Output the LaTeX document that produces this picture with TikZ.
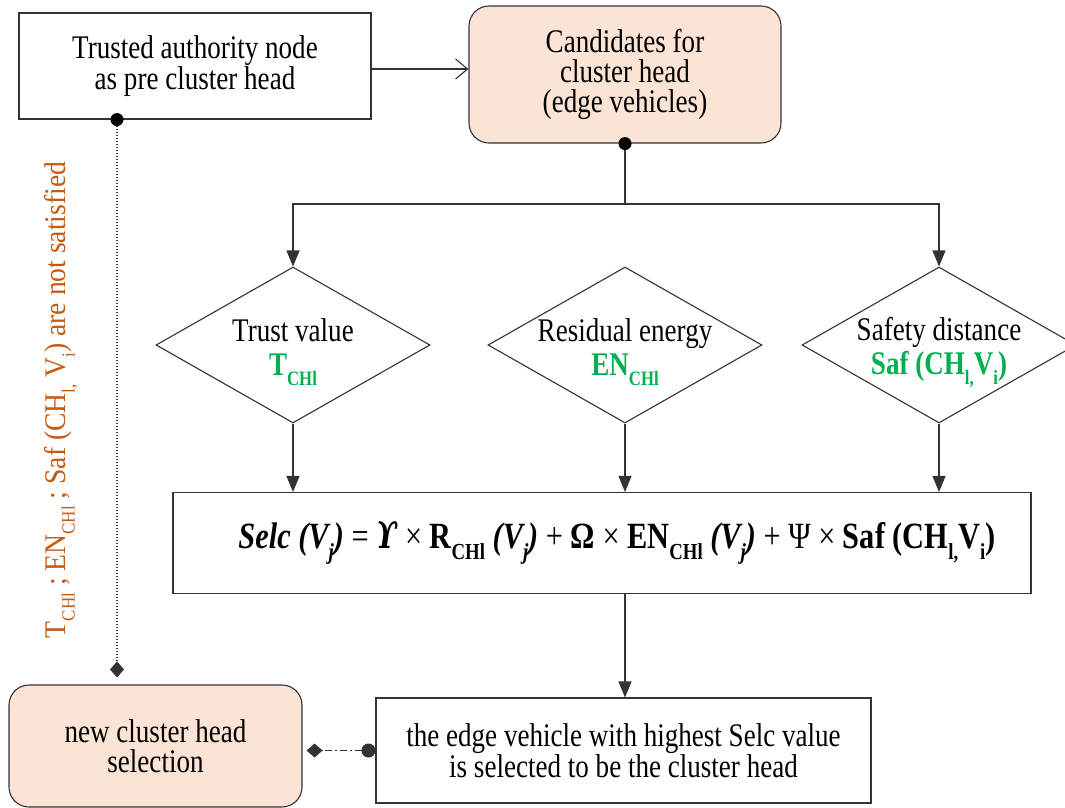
\documentclass[tikz,border=0pt]{standalone}
\usepackage{fontspec}
\usepackage{graphicx}
\setmainfont{Liberation Serif}[FakeStretch=0.82]
\newfontfamily\rotfont{Liberation Serif}[FakeStretch=0.92]
\newfontfamily\upsfont{DejaVu Serif}[FakeStretch=0.75]
\usetikzlibrary{arrows.meta,shapes.geometric}
\definecolor{peach}{HTML}{FBE4D5}
\definecolor{cgreen}{HTML}{00B050}
\definecolor{corange}{HTML}{C55A11}
\definecolor{edge}{HTML}{333333}
\newcommand\subx[1]{\raisebox{-0.3em}{\scalebox{0.62}{#1}}}
\newcommand\topstrut{\rule{0pt}{38pt}}
\tikzset{knob/.tip={Diamond[length=16pt,width=14pt]}}

\begin{document}
\begin{tikzpicture}[x=1pt,y=-1pt,
  every node/.style={font=\fontsize{33}{30}\selectfont, align=center},
  box/.style={draw=edge, line width=1.1pt, rectangle, inner sep=0pt},
  softbox/.style={box, fill=peach, rounded corners=20pt},
  diam/.style={draw=edge, line width=1.1pt, diamond, aspect=1.756, inner sep=-14pt,
    minimum width=274pt, minimum height=156pt, font=\fontsize{33}{34}\selectfont},
  link/.style={line width=1.1pt, draw=edge},
  tri/.style={-{Triangle[length=16pt,width=13pt]}},
  open/.style={-{Straight Barb[length=12pt,width=20pt,line width=1.1pt]}},
  dotline/.style={dash pattern=on 1.3pt off 1.7pt},
  dashdot/.style={dash pattern=on 7pt off 3pt on 2pt off 3pt}
]
\fill[white] (0,0) rectangle (1065,807);
\useasboundingbox (0,0) rectangle (1065,807);

% boxes
\node[box, minimum width=352pt, minimum height=106pt] (ta) at (195,66)
  {Trusted authority node\\as pre cluster head};
\node[softbox, minimum width=312pt, minimum height=137pt] (cand) at (625,74.5)
  {Candidates for\\cluster head\\(edge vehicles)};

% criteria
\node[diam] (d1) at (293,345) {\topstrut Trust value\\\textcolor{cgreen}{\bfseries T\subx{CHl}}};
\node[diam] (d2) at (625,345) {\topstrut Residual energy\\\textcolor{cgreen}{\bfseries EN\subx{CHl}}};
\node[diam] (d3) at (939,345) {\topstrut Safety distance\\\textcolor{cgreen}{\bfseries Saf (CH\subx{l,}V\subx{i})}};

% selection score
\node[box, minimum width=858pt, minimum height=101pt, font=\fontsize{37}{35}\selectfont] (fb) at (602,543)
  {\hspace*{30pt}{\bfseries\itshape Selc (V\subx{j})} = {\upsfont\bfseries\itshape ϒ} × {\bfseries R\subx{CHl} \textit{(V\subx{j})}} + {\bfseries Ω} × {\bfseries EN\subx{CHl} \textit{(V\subx{j})}} + Ψ × {\bfseries Saf (CH\subx{l,}V\subx{i})}};

\node[box, minimum width=495pt, minimum height=105pt] (res) at (623.5,750.5)
  {the edge vehicle with highest Selc value\\is selected to be the cluster head};
\node[softbox, minimum width=293pt, minimum height=122pt] (newch) at (155.5,746)
  {new cluster head\\selection};

% failure condition
\node[rotate=90, text=corange, font=\rotfont\fontsize{30}{30}\selectfont] (cond) at (61,400)
  {T\subx{CHl} ; EN\subx{CHl} ; Saf (CH\subx{l,} V\subx{i}) are not satisfied};

% connectors
\draw[link, open] ([yshift=-3pt]ta.east) -- ([yshift=-3pt]cand.west |- ta.east);

\coordinate (bus) at (625,204);
\draw[link] (cand.south) -- (bus);
\fill[black] (cand.south) circle (6.5pt);
\draw[link, tri] (bus) -| (d1.north);
\draw[link, tri] (bus) -| (d3.north);

\draw[link, tri] (d1.south) -- (d1.south |- fb.north);
\draw[link, tri] (d2.south) -- (d2.south |- fb.north);
\draw[link, tri] (d3.south) -- (d3.south |- fb.north);

\draw[link, tri] (fb.south -| d2.south) -- (res.north -| d2.south);

\draw[link, dotline, -{knob}, shorten >=7pt] ([xshift=-78pt]ta.south) -- ([xshift=-38.5pt]newch.north);
\fill[black] ([xshift=-78pt]ta.south) circle (6.5pt);

\draw[link, dashdot, {Circle[length=14pt]}-{knob}, shorten >=4pt] (res.west) -- (newch.east |- res.west);
\end{tikzpicture}
\end{document}
